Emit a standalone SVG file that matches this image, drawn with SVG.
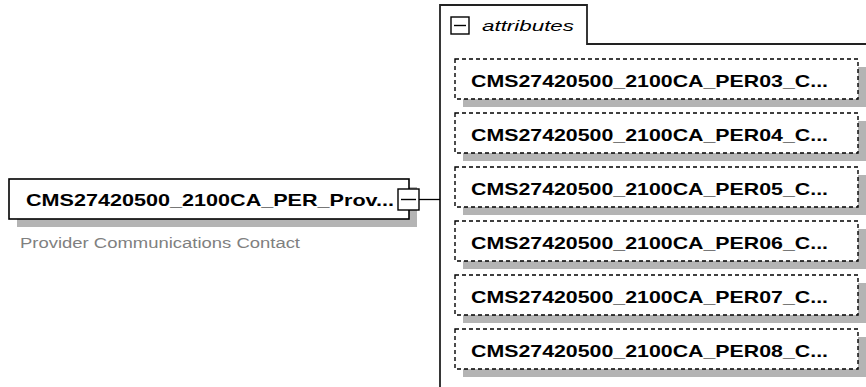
<svg xmlns="http://www.w3.org/2000/svg" width="866" height="387" viewBox="0 0 866 387">
<style>
.shadow{fill:#b4b4b4;stroke:none}
.attr{fill:#ffffff;stroke:#000000;stroke-width:1.4;stroke-dasharray:4 3}
.box{fill:#ffffff;stroke:#000000;stroke-width:1.6}
.lbl{font-family:"Liberation Sans",Arial,sans-serif;font-weight:bold;font-size:17px;fill:#000000}
.desc{font-family:"Liberation Sans",Arial,sans-serif;font-size:14px;fill:#808080}
.tab{font-family:"Liberation Sans",Arial,sans-serif;font-style:italic;font-size:15px;fill:#000000}
.frame{fill:none;stroke:#222222;stroke-width:1.8}
.conn{fill:none;stroke:#000000;stroke-width:1.3}
.exp{fill:#ffffff;stroke:#000000;stroke-width:1.4}
</style>
<rect width="866" height="387" fill="#ffffff"/>
<g id="attributes-frame">
<path class="frame" d="M440,387 L440,5 L587,5 L587,44 L866,44"/>
<rect class="exp" x="451" y="17" width="18" height="17"/>
<line x1="454" y1="25.5" x2="466" y2="25.5" stroke="#000000" stroke-width="1.4"/>
<text class="tab" x="482" y="31" textLength="92" lengthAdjust="spacingAndGlyphs">attributes</text>
</g>
<g id="connectors">
<line class="conn" x1="419" y1="199.5" x2="440" y2="199.5"/>
</g>
<g id="main-node">
<rect class="shadow" x="17" y="187" width="400" height="40"/>
<rect class="box" x="9" y="179" width="400" height="40"/>
<text class="lbl" x="26" y="206" textLength="368" lengthAdjust="spacingAndGlyphs">CMS27420500_2100CA_PER_Prov...</text>
<rect class="exp" x="398" y="189" width="21" height="21"/>
<line x1="401" y1="199.5" x2="416" y2="199.5" stroke="#000000" stroke-width="1.4"/>
<text class="desc" x="20" y="248" textLength="280" lengthAdjust="spacingAndGlyphs">Provider Communications Contact</text>
</g>
<g id="attr-per03">
<rect class="shadow" x="463" y="67" width="403" height="40"/>
<rect class="attr" x="455" y="59" width="403" height="40"/>
<text class="lbl" x="471" y="87" textLength="357" lengthAdjust="spacingAndGlyphs">CMS27420500_2100CA_PER03_C...</text>
</g>
<g id="attr-per04">
<rect class="shadow" x="463" y="121" width="403" height="40"/>
<rect class="attr" x="455" y="113" width="403" height="40"/>
<text class="lbl" x="471" y="141" textLength="357" lengthAdjust="spacingAndGlyphs">CMS27420500_2100CA_PER04_C...</text>
</g>
<g id="attr-per05">
<rect class="shadow" x="463" y="175" width="403" height="40"/>
<rect class="attr" x="455" y="167" width="403" height="40"/>
<text class="lbl" x="471" y="195" textLength="357" lengthAdjust="spacingAndGlyphs">CMS27420500_2100CA_PER05_C...</text>
</g>
<g id="attr-per06">
<rect class="shadow" x="463" y="229" width="403" height="40"/>
<rect class="attr" x="455" y="221" width="403" height="40"/>
<text class="lbl" x="471" y="249" textLength="357" lengthAdjust="spacingAndGlyphs">CMS27420500_2100CA_PER06_C...</text>
</g>
<g id="attr-per07">
<rect class="shadow" x="463" y="283" width="403" height="40"/>
<rect class="attr" x="455" y="275" width="403" height="40"/>
<text class="lbl" x="471" y="303" textLength="357" lengthAdjust="spacingAndGlyphs">CMS27420500_2100CA_PER07_C...</text>
</g>
<g id="attr-per08">
<rect class="shadow" x="463" y="337" width="403" height="40"/>
<rect class="attr" x="455" y="329" width="403" height="40"/>
<text class="lbl" x="471" y="357" textLength="357" lengthAdjust="spacingAndGlyphs">CMS27420500_2100CA_PER08_C...</text>
</g>
</svg>
